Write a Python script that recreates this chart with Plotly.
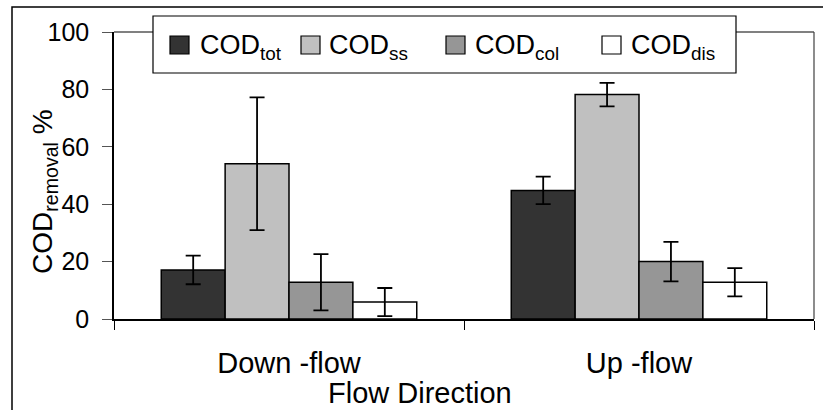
import plotly.graph_objects as go

# Flow configurations on the x axis
categories = ["Down -flow", "Up -flow"]

# COD fractions: legend labels and bar fill colours
series_names = ["COD<sub>tot</sub>", "COD<sub>ss</sub>", "COD<sub>col</sub>", "COD<sub>dis</sub>"]
series_colors = ["#333333", "#C0C0C0", "#969696", "#FFFFFF"]

# Mean removal (%) per fraction, ordered as categories
cod_tot = [17.1, 44.8]
cod_ss = [54.1, 78.2]
cod_col = [12.8, 20.0]
cod_dis = [5.9, 12.8]

# Standard deviations (%)
cod_tot_err = [5.0, 4.8]
cod_ss_err = [23.1, 4.1]
cod_col_err = [9.8, 6.9]
cod_dis_err = [4.9, 4.9]

y_ticks = [0, 20, 40, 60, 80, 100]

FONT = "Liberation Sans, Arial, sans-serif"

W, H = 823, 410
L, R, T, B = 114, 9, 32, 91
PW, PH = W - L - R, H - T - B


def px_x(px):
    return (px - L) / PW


def px_y(py):
    return (H - B - py) / PH


values = [cod_tot, cod_ss, cod_col, cod_dis]
errors = [cod_tot_err, cod_ss_err, cod_col_err, cod_dis_err]

fig = go.Figure()
for name, color, vals, errs in zip(series_names, series_colors, values, errors):
    fig.add_trace(go.Bar(
        x=categories, y=vals, name=name,
        marker=dict(color=color, line=dict(color="black", width=1.5)),
        error_y=dict(type="data", array=errs, visible=True,
                     color="black", thickness=1.8, width=7.5),
        showlegend=False,
    ))

shapes = [
    # plot-area frame: top (grey) and right edges
    dict(type="line", xref="paper", yref="paper", x0=0, x1=1, y0=1, y1=1,
         line=dict(color="#808080", width=2), layer="below"),
    dict(type="line", xref="paper", yref="paper", x0=1, x1=1, y0=0, y1=1,
         line=dict(color="#404040", width=1.2), layer="below"),
    # chart-area frame
    dict(type="rect", xref="paper", yref="paper",
         x0=px_x(12), x1=px_x(W + 5), y0=px_y(H + 5), y1=px_y(7),
         line=dict(color="black", width=1.5), layer="below"),
    # legend box
    dict(type="rect", xref="paper", yref="paper",
         x0=px_x(153), x1=px_x(736), y0=px_y(73), y1=px_y(16),
         line=dict(color="black", width=1.2), fillcolor="white", layer="above"),
]

annotations = []
swatch_left = [170, 301, 446, 602]
text_left = [198, 327, 473, 629]
for name, color, sx, tx in zip(series_names, series_colors, swatch_left, text_left):
    shapes.append(dict(type="rect", xref="paper", yref="paper",
                       x0=px_x(sx), x1=px_x(sx + 19), y0=px_y(54), y1=px_y(36),
                       line=dict(color="black", width=1.2), fillcolor=color, layer="above"))
    annotations.append(dict(text=name, xref="paper", yref="paper",
                            x=px_x(tx), y=px_y(47), xanchor="left", yanchor="middle",
                            showarrow=False, font=dict(family=FONT, size=27, color="black")))

# axis titles
annotations.append(dict(text="COD<sub>removal</sub> %", textangle=-90,
                        xref="paper", yref="paper", x=px_x(44), y=px_y(192),
                        xanchor="center", yanchor="middle", showarrow=False,
                        font=dict(family=FONT, size=28, color="black")))
annotations.append(dict(text="Flow Direction", xref="paper", yref="paper",
                        x=px_x(420), y=px_y(393), xanchor="center", yanchor="middle",
                        showarrow=False, font=dict(family=FONT, size=29, color="black")))

fig.update_layout(
    width=W, height=H,
    margin=dict(l=L, r=R, t=T, b=B, pad=0),
    paper_bgcolor="white", plot_bgcolor="white",
    barmode="group", bargap=0.27, bargroupgap=0,
    font=dict(family=FONT, color="black"),
    shapes=shapes, annotations=annotations,
    xaxis=dict(
        type="category", tickson="boundaries", ticks="outside", ticklen=9,
        tickcolor="black", tickwidth=1.2,
        showline=True, linecolor="black", linewidth=1.5,
        showgrid=False, tickfont=dict(family=FONT, size=29, color="black"),
        ticklabelstandoff=17,
    ),
    yaxis=dict(
        range=[0, 100], tickvals=y_ticks, ticks="outside", ticklen=10,
        tickcolor="#555555", tickwidth=1.2,
        showline=True, linecolor="black", linewidth=1.5,
        showgrid=False, zeroline=False,
        tickfont=dict(family=FONT, size=25, color="black"),
        ticklabelstandoff=8,
    ),
)

fig.write_html("out.html")
